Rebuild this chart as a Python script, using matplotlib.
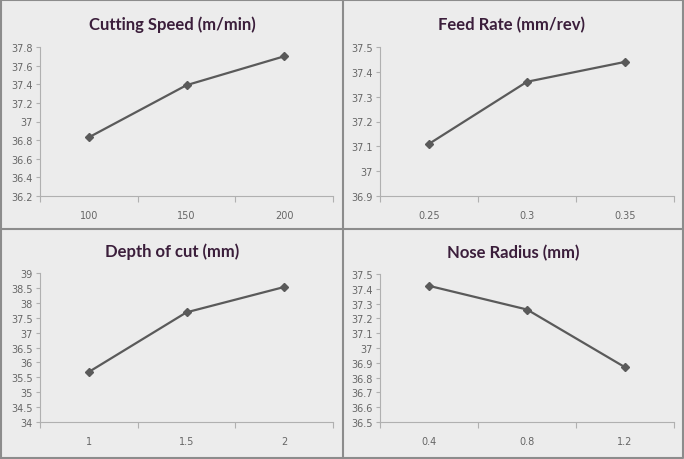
import numpy as np
import matplotlib.pyplot as plt
from matplotlib.lines import Line2D

# 数据
titles = ['Cutting Speed (m/min)', 'Feed Rate (mm/rev)', 'Depth of cut (mm)', 'Nose Radius (mm)']
x_labels = [['100', '150', '200'], ['0.25', '0.3', '0.35'], ['1', '1.5', '2'], ['0.4', '0.8', '1.2']]
speed_vals = [36.83, 37.39, 37.70]
feed_vals = [37.11, 37.36, 37.44]
depth_vals = [35.68, 37.68, 38.53]
nose_vals = [37.42, 37.26, 36.87]
y_ticks = [np.arange(36.2, 37.81, 0.2), np.arange(36.9, 37.51, 0.1),
           np.arange(34, 39.01, 0.5), np.arange(36.5, 37.51, 0.1)]
series = [speed_vals, feed_vals, depth_vals, nose_vals]

W, H = 684, 460
fig = plt.figure(figsize=(W / 100, H / 100), dpi=100, facecolor='#ececec')

# 面板位置 (像素)
boxes = [(40, 48, 333, 197), (380, 48, 674, 197), (40, 274, 333, 423), (380, 275, 674, 423)]
title_pos = [(172, 25), (512, 25), (172, 252), (513, 253)]

tick_color = '#666666'
for i in range(4):
    l, t, r, b = boxes[i]
    ax = fig.add_axes([l / W, 1 - b / H, (r - l) / W, (b - t) / H])
    ax.set_facecolor('none')
    x = np.arange(1, 4)
    ax.plot(x, series[i], color='#5a5a5a', lw=1.6, marker='D', ms=4.5)
    ax.set_xlim(0.5, 3.5)
    yt = y_ticks[i]
    ax.set_ylim(yt[0], yt[-1])
    ax.set_yticks(yt)
    ax.set_yticklabels(['%g' % round(v, 2) for v in yt])
    ax.set_xticks([0.5, 1.5, 2.5, 3.5])
    ax.set_xticklabels([])
    ax.set_xticks(x, minor=True)
    ax.set_xticklabels(x_labels[i], minor=True)
    ax.tick_params(axis='x', which='minor', length=0, pad=10, labelsize=7, labelcolor=tick_color)
    ax.tick_params(axis='x', which='major', length=4, color='#b0b0b0')
    ax.tick_params(axis='y', length=3, color='#b0b0b0', labelsize=7, labelcolor=tick_color, pad=2)
    for s in ['top', 'right']:
        ax.spines[s].set_visible(False)
    for s in ['left', 'bottom']:
        ax.spines[s].set_color('#b0b0b0')
        ax.spines[s].set_linewidth(0.8)
    tx, ty = title_pos[i]
    fig.text(tx / W, 1 - ty / H, titles[i], ha='center', va='center',
             fontsize=12, fontweight='bold', color='#3b1e3b', family='Lato')

# 分隔线与边框
fig.add_artist(Line2D([343 / W, 343 / W], [0, 1], color='#8c8c8c', lw=1.5))
fig.add_artist(Line2D([0, 1], [1 - 230 / H, 1 - 230 / H], color='#8c8c8c', lw=1.5))
fig.add_artist(Line2D([0.002, 0.002, 0.998, 0.998, 0.002], [0.003, 0.997, 0.997, 0.003, 0.003],
                      color='#8c8c8c', lw=1.5))

plt.savefig('out.png', dpi=100, facecolor=fig.get_facecolor())
